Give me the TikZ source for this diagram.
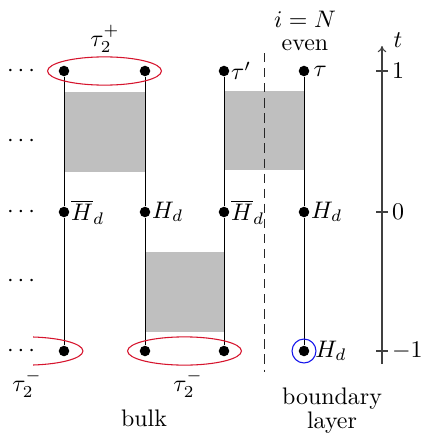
\documentclass[tikz,border=0pt]{standalone}
\usetikzlibrary{arrows.meta}
\definecolor{ered}{RGB}{214,20,45}
\definecolor{eblue}{RGB}{20,20,235}
\begin{document}
\begin{tikzpicture}[x=0.418pt,y=-0.418pt,
  dot/.style={circle,fill=black,inner sep=0pt,minimum size=4.4pt},
  lab/.style={anchor=west,inner sep=0.4pt},
  wline/.style={line width=0.4pt},
  shade/.style={fill=black!25},
  ell/.style={ered,line width=0.45pt},
  axis/.style={black!75,line width=0.45pt},
  dotsl/.style={inner sep=0pt}]
\useasboundingbox (0,0) rectangle (422,435);
% gray boxes
\fill[shade] (64,92) rectangle (145,172);
\fill[shade] (145,252) rectangle (224,332);
\fill[shade] (224,91) rectangle (304,170);
% dots
\foreach \c/\x in {a/64,b/145,c/224,d/304}{
  \node[dot] (\c1) at (\x,71) {};
  \node[dot] (\c0) at (\x,212) {};
  \node[dot] (\c2) at (\x,351) {};
}
\draw[wline] (a1) -- (a0) -- (a2);
\draw[wline] (b1) -- (b0) -- (b2);
\draw[wline] (c1) -- (c0) -- (c2);
\draw[wline] (d1) -- (d0) -- (d2);
% labels
\node[lab] at (c1.east) {$\tau'$};
\node[lab,xshift=1pt] at (d1.east) {$\tau$};
\node[lab] at (a0.east) {$\overline{H}_d$};
\node[lab] at (b0.east) {$H_d$};
\node[lab] at (c0.east) {$\overline{H}_d$};
\node[lab] at (d0.east) {$H_d$};
\node[lab,xshift=1.8pt] at (d2.east) {$H_d$};
% dots left
\foreach \y/\n in {71/1,141/2,212/3,281/4,351/5}
  \node[dotsl] (l\n) at (21,\y) {$\cdots$};
% ellipses
\draw[ell] (104.5,71) ellipse [x radius=23.8pt, y radius=5.9pt];
\draw[ell] (184.5,351) ellipse [x radius=23.8pt, y radius=5.9pt];
\begin{scope}
\clip (33,320) rectangle (120,380);
\draw[ell] (26,351) ellipse [x radius=23.8pt, y radius=5.9pt];
\end{scope}
\draw[eblue,line width=0.45pt] (d2) circle [radius=5pt];
\node (tp) at (105,39) {$\tau_2^{+}$};
\node (tm1) at (27,384) {$\tau_2^{-}$};
\node (tm2) at (188,384) {$\tau_2^{-}$};
\node (bulk) at (144,418) {bulk};
\node[align=center,inner sep=0pt] (bl) at (332,411) {boundary\\[-2pt]layer};
\node (iN) at (305,19) {$i=N$};
\node (even) at (305,45) {even};
% dashed separator
\coordinate (s1) at (264,53);
\coordinate (s2) at (264,372);
\draw[dash pattern=on 3.9pt off 2.4pt,line width=0.4pt,black!85] (s1) -- (s2);
% axis
\coordinate (ab) at (382,364);
\coordinate (at) at (382,46);
\draw[axis,-{To[length=2.6pt,width=3.6pt]}] (ab) -- (at);
\node (tl) at (398,40) {$t$};
\foreach \y/\v/\n in {71/1/p,212/0/z,351/-1/m}{
  \coordinate (k\n a) at (376,\y);
  \coordinate (k\n b) at (388,\y);
  \draw[axis] (k\n a) -- (k\n b);
  \node[anchor=west,inner sep=1.5pt] at (k\n b) {$\v$};
}
\end{tikzpicture}
\end{document}
